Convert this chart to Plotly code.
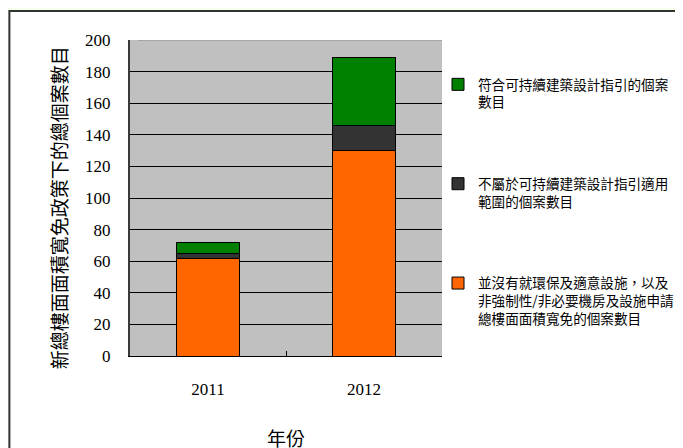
import plotly.graph_objects as go

years = ["2011", "2012"]
orange_vals = [62, 130]   # 並沒有就環保及適意設施…
dark_vals = [3, 16]       # 不屬於可持續建築設計指引適用範圍
green_vals = [7, 43]      # 符合可持續建築設計指引
y_ticks = [0, 20, 40, 60, 80, 100, 120, 140, 160, 180, 200]

names = [
    "並沒有就環保及適意設施，以及<br>非強制性/非必要機房及設施申請<br>總樓面面積寬免的個案數目",
    "不屬於可持續建築設計指引適用<br>範圍的個案數目",
    "符合可持續建築設計指引的個案<br>數目",
]
colors = ["#FF6600", "#333333", "#008000"]
ranks = [3, 2, 1]
series = [orange_vals, dark_vals, green_vals]

# page is offset by the 8px body margin; positions below are in figure pixels
L, T = 122, 32
W, H = 683, 448
pw, ph = 313, 316
R, B = W - L - pw, H - T - ph

def px(x):
    return (x - L) / pw

def py(y):
    return (H - B - y) / ph

fig = go.Figure()
for i, (nm, col, vals, rk) in enumerate(zip(names, colors, series, ranks)):
    fig.add_trace(go.Bar(
        x=years, y=vals, name=nm, marker=dict(color=col, line=dict(color="#000", width=1)),
        legendgroup=str(i), legendrank=rk,
    ))

fig.update_layout(
    width=W, height=H,
    margin=dict(l=L, r=R, t=T, b=B),
    barmode="stack", bargap=0.6,
    paper_bgcolor="#F4FFEB",
    plot_bgcolor="rgba(0,0,0,0)",
    showlegend=True,
    legend=dict(
        x=px(430), y=py(61), xanchor="left", yanchor="top",
        traceorder="grouped", tracegroupgap=61, valign="top",
        font=dict(family="Noto Sans CJK TC", size=13.6, color="#000"),
        bgcolor="rgba(0,0,0,0)",
    ),
    shapes=[
        dict(type="rect", xref="paper", yref="paper", layer="below",
             x0=px(1), x1=px(720), y0=py(480), y1=py(3),
             fillcolor="#FFFFFF", line=dict(color="#333333", width=2)),
        dict(type="rect", xref="paper", yref="paper", layer="below",
             x0=0, x1=1, y0=0, y1=1, fillcolor="#C0C0C0", line=dict(width=0)),
        dict(type="line", xref="paper", yref="y", layer="above",
             x0=px(L + 8), x1=1, y0=y_ticks[-1], y1=y_ticks[-1],
             line=dict(color="#8C8C8C", width=1)),
    ],
    annotations=[
        dict(text="新總樓面面積寬免政策下的總個案數目", xref="paper", yref="paper",
             x=px(51), y=py(200), xanchor="center", yanchor="middle",
             textangle=-90, showarrow=False,
             font=dict(family="Noto Sans CJK TC", size=19, color="#000")),
        dict(text="年份", xref="paper", yref="paper", x=px(279), y=py(429),
             xanchor="center", yanchor="middle",
             showarrow=False, font=dict(family="Noto Sans CJK TC", size=19, color="#000")),
    ],
)
fig.update_yaxes(
    range=[0, 200], tickvals=y_ticks, showgrid=True, gridcolor="#000", gridwidth=1,
    showline=True, linecolor="#3A3A3A", linewidth=2, ticks="inside", ticklen=7,
    tickcolor="#000", ticklabelstandoff=14,
    tickfont=dict(family="Liberation Serif", size=17, color="#000"), zeroline=False,
)
fig.update_xaxes(
    showline=True, linecolor="#000", linewidth=1, ticks="inside", ticklen=5,
    tickcolor="#000", tickson="boundaries", ticklabelstandoff=18,
    tickfont=dict(family="Liberation Serif", size=17, color="#000"),
)
fig.write_html("out.html")
